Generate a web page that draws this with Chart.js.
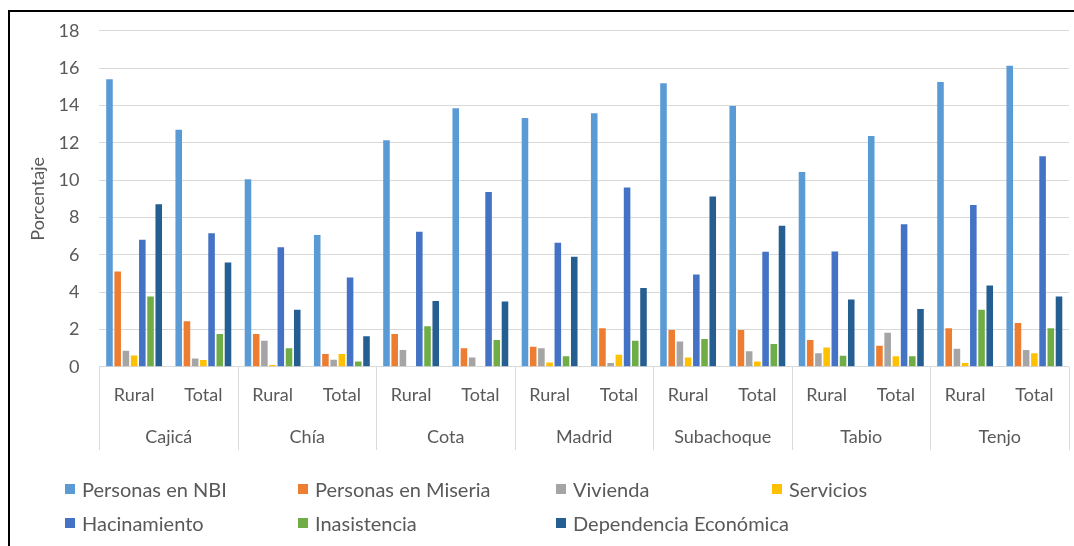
<!DOCTYPE html>
<html>
<head>
<meta charset="utf-8">
<script src="https://cdn.jsdelivr.net/npm/chart.js@4.4.1/dist/chart.umd.min.js"></script>
<style>
  html, body { margin: 0; padding: 0; background: #fff; }
  #wrap { position: relative; width: 1074px; height: 546px; overflow: hidden; }
  #frame { position: absolute; left: 8px; top: 10px; width: 1100px; height: 600px;
           border-top: 2px solid #000; border-left: 2px solid #000; }
  #grafico { position: absolute; left: 0; top: 0; }
  #leyenda { position: absolute; left: 65px; top: 472px; display: grid;
             grid-template-columns: 233px 258px 216px auto;
             font-family: Lato, sans-serif; font-size: 20px; color: #595959; }
  .item { display: flex; align-items: center; height: 34px; white-space: nowrap; }
  .cuadro { flex: 0 0 10px; width: 10px; height: 10px; margin-right: 7px; }
</style>
</head>
<body>
<div id="wrap">
  <div id="frame"></div>
  <canvas id="grafico" width="1074" height="546"></canvas>
  <div id="leyenda"></div>
</div>
<script>
const municipios = ["Cajicá", "Chía", "Cota", "Madrid", "Subachoque", "Tabio", "Tenjo"];
const zonas = ["Rural", "Total", "Rural", "Total", "Rural", "Total", "Rural", "Total",
               "Rural", "Total", "Rural", "Total", "Rural", "Total"];

// valores en el orden Cajicá Rural, Cajicá Total, Chía Rural, ...
const nbi          = [15.4, 12.7, 10.05, 7.06, 12.14, 13.85, 13.33, 13.58, 15.19, 13.97, 10.43, 12.36, 15.26, 16.13];
const miseria      = [5.1, 2.44, 1.76, 0.68, 1.76, 1.0, 1.08, 2.06, 1.97, 1.97, 1.43, 1.13, 2.06, 2.35];
const vivienda     = [0.86, 0.45, 1.4, 0.38, 0.9, 0.5, 0.99, 0.2, 1.36, 0.83, 0.73, 1.82, 0.97, 0.9];
const servicios    = [0.6, 0.36, 0.1, 0.68, 0, 0, 0.23, 0.65, 0.5, 0.29, 1.04, 0.56, 0.2, 0.72];
const hacinamiento = [6.8, 7.15, 6.4, 4.78, 7.24, 9.36, 6.65, 9.61, 4.94, 6.16, 6.18, 7.63, 8.67, 11.28];
const inasistencia = [3.77, 1.76, 1.0, 0.29, 2.17, 1.43, 0.56, 1.4, 1.49, 1.22, 0.59, 0.56, 3.05, 2.06];
const dependencia  = [8.71, 5.59, 3.05, 1.63, 3.52, 3.5, 5.89, 4.22, 9.12, 7.56, 3.61, 3.1, 4.36, 3.77];

const gris = "#595959";
const fuente = { family: "Lato, sans-serif", size: 18 };

// lineas verticales que separan cada municipio en el eje de categorias
const separadores = {
    id: "separadores",
    afterDraw(chart) {
        const x2 = chart.scales.x2;
        const ctx = chart.ctx;
        const paso = (x2.right - x2.left) / municipios.length;
        ctx.save();
        ctx.strokeStyle = "#d9d9d9";
        ctx.lineWidth = 1;
        for (let i = 0; i <= municipios.length; i++) {
            const px = Math.round(x2.left + i * paso) + 0.5;
            ctx.beginPath();
            ctx.moveTo(px, chart.chartArea.bottom);
            ctx.lineTo(px, x2.bottom);
            ctx.stroke();
        }
        ctx.restore();
    }
};

const serie = (label, data, color) => ({
    label: label, data: data, backgroundColor: color,
    categoryPercentage: 0.83, barPercentage: 0.8
});

const chart = new Chart(document.getElementById("grafico"), {
    type: "bar",
    data: {
        labels: zonas,
        datasets: [
            serie("Personas en NBI", nbi, "#5b9bd5"),
            serie("Personas en Miseria", miseria, "#ed7d31"),
            serie("Vivienda", vivienda, "#a5a5a5"),
            serie("Servicios", servicios, "#ffc000"),
            serie("Hacinamiento", hacinamiento, "#4472c4"),
            serie("Inasistencia", inasistencia, "#70ad47"),
            serie("Dependencia Económica", dependencia, "#255e91")
        ]
    },
    options: {
        responsive: false,
        animation: false,
        layout: { padding: { left: 27, top: 26, right: 5, bottom: 96 } },
        plugins: { legend: { display: false }, tooltip: { enabled: false } },
        scales: {
            y: {
                min: 0, max: 18,
                ticks: { stepSize: 2, color: gris, font: fuente, padding: 20 },
                grid: { color: "#d9d9d9", drawTicks: false },
                border: { display: false },
                title: { display: true, text: "Porcentaje", color: gris, font: fuente,
                         padding: { top: 0, bottom: -10 } }
            },
            x: {
                ticks: { color: gris, font: fuente, padding: 18, maxRotation: 0, autoSkip: false },
                grid: { display: false, drawTicks: false },
                border: { display: false }
            },
            x2: {
                type: "category",
                labels: municipios,
                position: "bottom",
                ticks: { color: gris, font: fuente, padding: 2, maxRotation: 0, autoSkip: false },
                grid: { display: false, drawTicks: false },
                border: { display: false }
            }
        }
    },
    plugins: [separadores]
});

// leyenda en cuadricula como en el original
const leyenda = document.getElementById("leyenda");
chart.data.datasets.forEach(ds => {
    const item = document.createElement("div");
    item.className = "item";
    const cuadro = document.createElement("span");
    cuadro.className = "cuadro";
    cuadro.style.background = ds.backgroundColor;
    item.appendChild(cuadro);
    item.appendChild(document.createTextNode(ds.label));
    leyenda.appendChild(item);
});
</script>
</body>
</html>
